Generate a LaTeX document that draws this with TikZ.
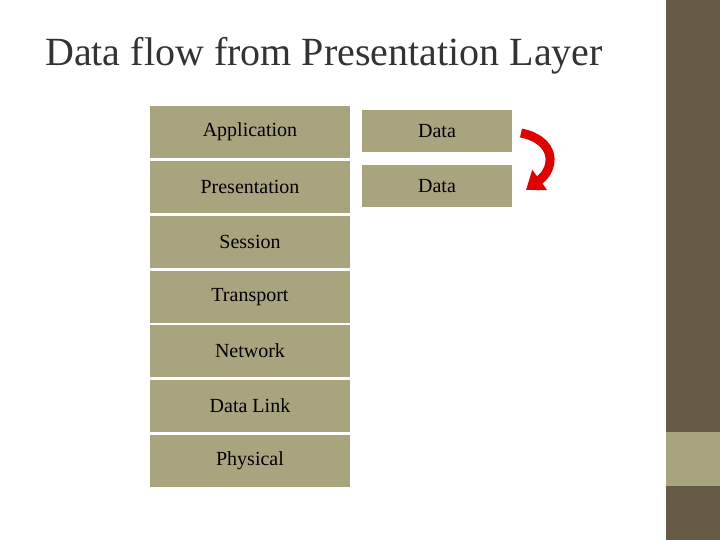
\documentclass[tikz,border=0pt]{standalone}
\usepackage{fontspec}
\setmainfont{Liberation Serif}
\usetikzlibrary{arrows.meta}
\definecolor{olive}{HTML}{A8A47E}
\definecolor{darkstrip}{HTML}{665C45}
\definecolor{arrowred}{HTML}{E00000}
\begin{document}
\begin{tikzpicture}[x=1pt,y=-1pt,
  layer/.style={fill=olive,draw=white,line width=1.5pt,minimum width=201pt,minimum height=53pt,inner sep=0pt,font=\fontsize{20}{24}\selectfont},
  databox/.style={fill=olive,draw=white,line width=1.5pt,minimum width=152pt,minimum height=43pt,inner sep=0pt,font=\fontsize{20}{24}\selectfont}]
\useasboundingbox (0,0) rectangle (720,540);
\fill[white] (0,0) rectangle (720,540);
\fill[darkstrip] (666,0) rectangle (720,540);
\fill[olive] (666,432) rectangle (720,486);
\node[anchor=base west,font=\fontsize{40}{44}\selectfont,inner sep=0pt,text=black!80] (title) at (45,66) {Data flow from Presentation Layer};
\node[layer] (app) at (250,132) {Application};
\node[layer] (pres) at (250,187) {Presentation};
\node[layer] (sess) at (250,242) {Session};
\node[layer] (trans) at (250,297) {Transport};
\node[layer] (net) at (250,351) {Network};
\node[layer] (dl) at (250,406) {Data Link};
\node[layer] (phys) at (250,461) {Physical};
\node[databox] (d1) at (437,131) {Data};
\node[databox] (d2) at (437,186) {Data};
\coordinate (as) at (521,133);
\coordinate (ae) at (526,190);
\draw[arrowred,line width=9pt,-{Triangle[width=24pt,length=17pt]}] (as) .. controls (556,140) and (556,168) .. (ae);
\end{tikzpicture}
\end{document}
